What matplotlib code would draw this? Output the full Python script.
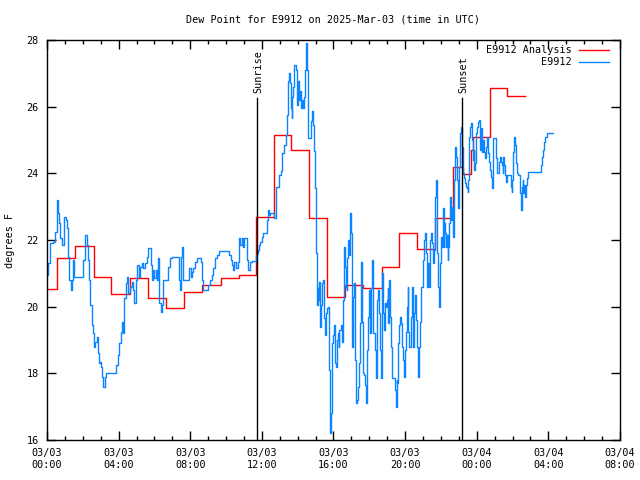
import matplotlib
matplotlib.use('Agg')
import matplotlib.pyplot as plt
from matplotlib.ticker import MultipleLocator

# Analysis (hourly steps), time in hours from 03/03 00:00 UTC
red_t = [0.0, 0.55, 1.55, 2.6, 3.6, 4.62, 5.62, 6.62, 7.65, 8.68, 9.70, 10.72, 11.69, 12.68,
         13.61, 14.61, 15.65, 16.64, 17.67, 18.73, 19.66, 20.68, 21.68, 22.68, 23.22, 23.70,
         23.80, 24.72, 25.68, 26.70]
red_v = [20.53, 21.45, 21.82, 20.88, 20.38, 20.85, 20.27, 19.95, 20.45, 20.65, 20.85, 20.95,
         22.7, 25.14, 24.7, 22.65, 20.3, 20.66, 20.57, 21.2, 22.22, 21.73, 22.65, 24.18, 23.98,
         24.7, 25.08, 26.55, 26.32, 26.32]

# Station observations
blue_t = [0.0, 0.07, 0.17, 0.35, 0.45, 0.54, 0.60, 0.67, 0.73, 0.82, 0.95, 1.04, 1.10, 1.19,
          1.23, 1.32, 1.38, 1.47, 1.53, 2.03, 2.12, 2.22, 2.27, 2.35, 2.40, 2.49, 2.59, 2.64,
          2.68, 2.77, 2.83, 2.90, 2.96, 3.02, 3.09, 3.15, 3.24, 3.30, 3.83, 3.95, 4.02, 4.13,
          4.21, 4.26, 4.32, 4.39, 4.45, 4.54, 4.64, 4.73, 4.82, 4.88, 4.95, 5.04, 5.14, 5.19,
          5.29, 5.38, 5.47, 5.56, 5.66, 5.81, 5.85, 5.94, 5.99, 6.07, 6.12, 6.22, 6.27, 6.35,
          6.40, 6.50, 6.78, 6.87, 6.96, 7.37, 7.43, 7.48, 7.56, 7.61, 7.95, 8.02, 8.08, 8.17,
          8.27, 8.36, 8.58, 8.64, 8.69, 9.01, 9.10, 9.23, 9.29, 9.38, 9.51, 9.62, 10.16, 10.26,
          10.35, 10.41, 10.44, 10.56, 10.65, 10.72, 10.78, 10.87, 10.96, 11.00, 11.19, 11.24,
          11.34, 11.43, 11.67, 11.71, 11.76, 11.84, 11.90, 11.99, 12.08, 12.27, 12.32, 12.40,
          12.45, 12.64, 12.70, 12.77, 12.96, 13.07, 13.14, 13.25, 13.33, 13.38, 13.44, 13.52,
          13.57, 13.63, 13.66, 13.70, 13.76, 13.81, 13.89, 13.94, 14.00, 14.07, 14.13, 14.19,
          14.26, 14.32, 14.37, 14.41, 14.45, 14.50, 14.56, 14.59, 14.74, 14.82, 14.87, 14.93,
          14.97, 15.02, 15.04, 15.08, 15.12, 15.15, 15.21, 15.25, 15.30, 15.38, 15.43, 15.47,
          15.53, 15.56, 15.66, 15.71, 15.75, 15.79, 15.84, 15.90, 15.94, 15.99, 16.05, 16.08,
          16.14, 16.18, 16.23, 16.29, 16.33, 16.40, 16.46, 16.51, 16.55, 16.59, 16.64, 16.70,
          16.74, 16.77, 16.83, 16.87, 16.92, 16.96, 17.02, 17.05, 17.11, 17.16, 17.20, 17.26,
          17.29, 17.39, 17.44, 17.48, 17.54, 17.57, 17.63, 17.70, 17.76, 17.82, 17.89, 17.95,
          18.00, 18.04, 18.09, 18.13, 18.19, 18.22, 18.32, 18.37, 18.41, 18.45, 18.50, 18.56,
          18.60, 18.63, 18.69, 18.75, 18.78, 18.82, 18.88, 18.93, 18.97, 19.03, 19.06, 19.12,
          19.16, 19.19, 19.25, 19.43, 19.49, 19.53, 19.56, 19.62, 19.68, 19.73, 19.77, 19.81,
          19.90, 19.96, 19.99, 20.05, 20.09, 20.14, 20.18, 20.22, 20.33, 20.37, 20.42, 20.46,
          20.50, 20.55, 20.59, 20.63, 20.68, 20.74, 20.78, 20.83, 20.89, 21.02, 21.07, 21.11,
          21.15, 21.20, 21.24, 21.30, 21.33, 21.39, 21.45, 21.52, 21.58, 21.61, 21.67, 21.71,
          21.76, 21.80, 21.86, 21.91, 21.95, 22.00, 22.04, 22.10, 22.15, 22.19, 22.23, 22.28,
          22.32, 22.38, 22.41, 22.47, 22.51, 22.56, 22.60, 22.65, 22.69, 22.75, 22.79, 22.84,
          22.88, 22.93, 22.97, 23.03, 23.06, 23.12, 23.16, 23.21, 23.25, 23.31, 23.34, 23.40,
          23.44, 23.49, 23.53, 23.58, 23.62, 23.68, 23.72, 23.77, 23.83, 23.86, 23.90, 23.94,
          23.99, 24.05, 24.14, 24.18, 24.22, 24.27, 24.31, 24.37, 24.41, 24.46, 24.52, 24.55,
          24.65, 24.70, 24.74, 24.80, 24.83, 24.89, 24.93, 25.08, 25.11, 25.26, 25.30, 25.35,
          25.39, 25.45, 25.48, 25.54, 25.58, 25.61, 25.67, 25.89, 25.95, 25.99, 26.04, 26.10,
          26.14, 26.19, 26.23, 26.32, 26.42, 26.45, 26.49, 26.53, 26.56, 26.60, 26.64, 26.69,
          26.73, 26.79, 26.84, 27.57, 27.63, 27.68, 27.76, 27.81, 27.90, 28.25]
blue_v = [20.95, 21.3, 21.9, 21.95, 22.25, 23.2, 22.8, 22.5, 22.05, 21.85, 22.7, 22.6, 22.35, 21.5,
          20.8, 20.5, 20.8, 21.4, 20.9, 21.4, 22.15, 21.85, 21.4, 20.8, 20.05, 19.45, 19.2, 18.8,
          18.95, 19.1, 18.6, 18.3, 18.35, 18.2, 17.9, 17.6, 17.9, 18.0, 18.25, 18.55, 18.9, 19.25,
          19.55, 19.2, 20.25, 20.7, 20.9, 20.4, 20.6, 20.75, 20.5, 20.1, 20.8, 21.25, 20.9, 21.2,
          21.3, 21.15, 21.3, 21.5, 21.75, 21.25, 20.8, 21.1, 20.85, 21.1, 20.8, 21.45, 20.1, 19.85,
          20.05, 20.8, 21.2, 21.45, 21.5, 20.8, 20.5, 21.5, 21.8, 20.8, 21.15, 20.9, 21.05, 21.15,
          21.35, 21.45, 21.35, 20.8, 20.5, 20.65, 20.8, 20.95, 21.15, 21.45, 21.55, 21.67, 21.55, 21.4,
          21.25, 21.1, 21.35, 21.15, 21.35, 22.05, 21.85, 22.05, 21.8, 22.05, 21.4, 21.1,
          21.35, 21.38, 21.55, 21.6, 21.7, 21.85, 21.95, 22.1, 22.2, 22.6, 22.9, 22.75,
          22.8, 22.8, 22.66, 23.6, 23.96, 24.06, 24.6, 24.86, 25.16, 25.76, 26.76, 27.0,
          26.7, 25.96, 25.66, 26.3, 26.6, 27.26, 27.1, 26.06, 26.76, 26.2, 26.46, 25.96,
          26.2, 25.96, 26.3, 27.1, 27.9, 27.1, 25.86, 25.06, 25.56, 25.86, 25.46, 24.66,
          23.56, 22.66, 21.6, 20.05, 20.55, 20.2, 20.75, 19.4, 20.05, 20.7, 20.8, 19.65,
          19.15, 19.8, 19.95, 20.0, 18.1, 16.2, 16.8, 18.0, 18.9, 19.15, 19.45, 18.3,
          18.2, 19.0, 19.2, 18.8, 19.3, 19.45, 18.95, 19.6, 20.2, 21.8, 21.2, 20.6,
          20.5, 21.45, 22.0, 21.55, 22.8, 22.2, 21.6, 18.8, 20.3, 20.7, 18.4, 17.1,
          17.2, 17.6, 18.3, 19.5, 21.35, 19.55, 18.0, 17.95, 17.65, 17.1, 18.7, 19.7,
          20.5, 19.2, 20.55, 21.4, 20.1, 19.2, 18.7, 17.85, 19.75, 20.2, 20.5, 19.8,
          18.7, 17.85, 21.0, 20.2, 19.8, 19.3, 20.1, 20.0, 20.2, 20.55, 19.5, 20.8,
          19.7, 18.8, 17.85, 17.5, 17.0, 17.8, 17.7, 18.9, 19.45, 19.7, 19.5, 18.8,
          18.4, 17.9, 18.7, 19.25, 20.0, 20.6, 19.25, 18.8, 19.7, 20.6, 19.25, 18.8,
          19.8, 20.35, 20.1, 19.6, 18.8, 17.9, 18.8, 19.55, 20.6, 21.4, 22.0, 22.2,
          21.6, 21.0, 20.6, 21.3, 20.6, 22.0, 22.2, 21.9, 21.3, 21.7, 23.3, 23.8,
          23.3, 21.6, 20.6, 20.0, 21.3, 22.1, 21.8, 22.95, 21.8, 22.5, 22.2, 21.8,
          22.15, 21.4, 21.8, 22.5, 23.3, 22.6, 23.0, 22.55, 22.1, 23.8, 24.8, 24.5,
          23.8, 23.3, 22.95, 24.2, 25.2, 25.4, 24.8, 24.3, 24.0, 23.85, 23.7, 23.6,
          23.55, 23.45, 23.8, 25.1, 25.4, 25.5, 25.0, 24.4, 24.7, 24.1, 24.3, 25.2,
          25.4, 25.55, 25.6, 24.7, 25.35, 25.1, 24.65, 25.0, 24.65, 24.45, 24.8, 25.1,
          24.6, 24.35, 24.1, 23.9, 23.55, 24.2, 25.05, 24.45, 24.0, 24.35, 24.5, 24.35,
          24.25, 24.0, 24.5, 24.25, 23.95, 23.75, 23.95, 23.6, 23.45, 23.8, 24.65, 25.1,
          24.85, 24.3, 24.0, 23.95, 23.4, 23.2, 22.9, 23.6, 23.8, 23.4, 23.65, 23.3,
          23.65, 23.85, 24.05, 24.25, 24.5, 24.7, 24.95, 25.1, 25.2, 25.2]

sunrise_h = 11.75
sunset_h = 23.2

xtick_pos = [0, 4, 8, 12, 16, 20, 24, 28, 32]
xtick_labels = ['03/03\n00:00', '03/03\n04:00', '03/03\n08:00', '03/03\n12:00', '03/03\n16:00',
                '03/03\n20:00', '03/04\n00:00', '03/04\n04:00', '03/04\n08:00']
yticks = [16, 18, 20, 22, 24, 26, 28]

plt.rcParams['font.family'] = 'DejaVu Sans Mono'
plt.rcParams['font.size'] = 7.3

fig = plt.figure(figsize=(6.4, 4.8), dpi=100)
ax = fig.add_axes([0.0734, 0.0833, 0.8953, 0.8334])

ax.step(red_t, red_v, where='post', color='#ff0000', lw=1.0, label='E9912 Analysis')
ax.step(blue_t, blue_v, where='post', color='#0a84ff', lw=1.0, label='E9912')

# sunrise / sunset markers
for h, name in [(sunrise_h, 'Sunrise'), (sunset_h, 'Sunset')]:
    ax.plot([h, h], [16, 26.26], color='black', lw=1.0)
    ax.text(h + 0.05, 26.4, name, rotation=90, ha='center', va='bottom')

ax.set_xlim(0, 32)
ax.set_ylim(16, 28)
ax.set_xticks(xtick_pos)
ax.set_xticklabels(xtick_labels)
ax.xaxis.set_minor_locator(MultipleLocator(1))
ax.set_yticks(yticks)
ax.tick_params(which='both', direction='in', top=True, right=True, width=1.0)
ax.tick_params(which='major', length=6.5, pad=6)
ax.tick_params(which='minor', length=3.2)
ax.tick_params(axis='x', pad=6)
for sp in ax.spines.values():
    sp.set_linewidth(1.0)

ax.legend(loc='upper right', bbox_to_anchor=(0.9895, 1.0), frameon=False, markerfirst=False,
          handlelength=2.9, handletextpad=0.8, labelspacing=0.2, borderaxespad=0.1)

fig.text(0.52, 0.96, 'Dew Point for E9912 on 2025-Mar-03 (time in UTC)', ha='center', va='center')
fig.text(0.016, 0.5, 'degrees F', rotation=90, ha='center', va='center')

fig.savefig('out.png', dpi=100)
